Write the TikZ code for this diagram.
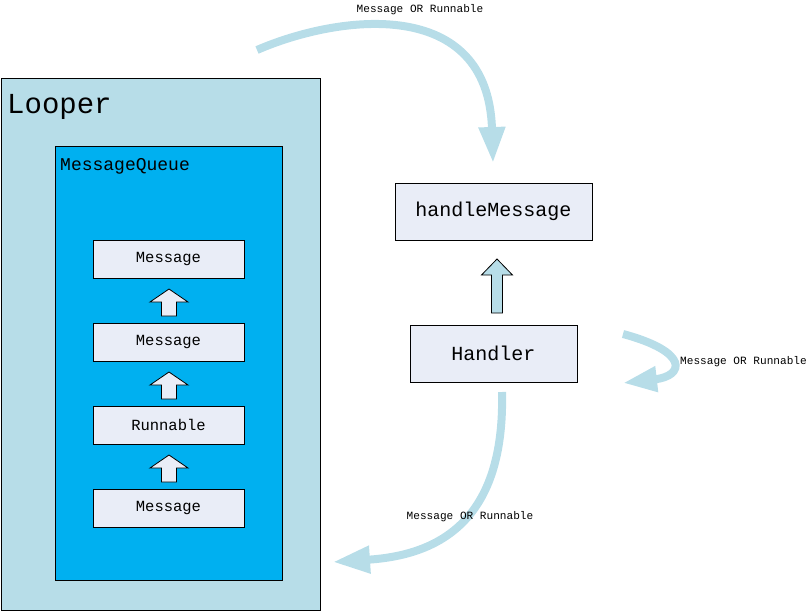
\documentclass[tikz,border=0pt]{standalone}
\usepackage{fontspec}
\setmainfont{Liberation Mono}
\usetikzlibrary{arrows.meta,calc}
\definecolor{looperblue}{RGB}{183,221,232}
\definecolor{queueblue}{RGB}{0,176,240}
\definecolor{boxfill}{RGB}{233,237,247}
\definecolor{flowblue}{RGB}{183,221,232}
\begin{document}
\begin{tikzpicture}[x=1pt,y=-1pt,
  frame/.style={draw=black,line width=0.8pt,inner sep=0pt},
  itembox/.style={frame,fill=boxfill,minimum width=151pt,minimum height=38pt,font=\fontsize{15.5}{18}\selectfont},
  bigbox/.style={frame,fill=boxfill,minimum height=57pt,font=\fontsize{20}{24}\selectfont},
  flowlabel/.style={inner sep=0pt,font=\fontsize{11.1}{13}\selectfont},
  flow/.style={draw=flowblue,line width=8pt},
  blockarrow/.style={draw=black,line width=0.8pt,line join=miter},
  smallup/.pic={\draw[pic actions] (-7.5,14) -- (-7.5,0) -- (-19,0) -- (0,-13) -- (19,0) -- (7.5,0) -- (7.5,14) -- cycle;},
  bigup/.pic={\draw[pic actions] (-5.5,27) -- (-5.5,-11) -- (-15.5,-11) -- (0,-27) -- (15.5,-11) -- (5.5,-11) -- (5.5,27) -- cycle;}
]
\useasboundingbox (0,0) rectangle (808,611);

% Looper and queue
\node[frame,fill=looperblue,minimum width=319pt,minimum height=532pt] (looper) at (160.5,344) {};
\node[anchor=base west,inner sep=0pt,font=\fontsize{29}{32}\selectfont] (looperlabel) at (7,113) {Looper};
\node[frame,fill=queueblue,minimum width=227pt,minimum height=434pt] (queue) at (168.5,363) {};
\node[anchor=base west,inner sep=0pt,font=\fontsize{18}{20}\selectfont] (queuelabel) at (60,170) {MessageQueue};

\node[itembox] (m1) at (168.5,259) {Message};
\node[itembox] (m2) at (168.5,342) {Message};
\node[itembox] (m3) at (168.5,425) {Runnable};
\node[itembox] (m4) at (168.5,508) {Message};

\path ($(m2.north)!0.5!(m1.south)$) ++(0.5,1.5) pic[blockarrow,fill=boxfill] {smallup};
\path ($(m3.north)!0.5!(m2.south)$) ++(0.5,1.5) pic[blockarrow,fill=boxfill] {smallup};
\path ($(m4.north)!0.5!(m3.south)$) ++(0.5,1.5) pic[blockarrow,fill=boxfill] {smallup};

% Handler side
\node[bigbox,minimum width=197pt] (hm) at (493.5,211.5) {handleMessage};
\node[bigbox,minimum width=167pt] (h) at (493.5,353.5) {Handler};
\path ($(hm.south)!0.5!(h.north)$) ++(3.5,3.5) pic[blockarrow,fill=flowblue] {bigup};

% curved flows
\coordinate (topstart) at (257,50);
\coordinate (toptip) at (493,163);
\draw[flow,-{Triangle[length=36pt,width=25pt]}] (topstart) .. controls (340,14) and (488,-4) .. (toptip);
\node[flowlabel] (toplabel) at (420,10) {Message OR Runnable};

\coordinate (rightstart) at (623,334);
\coordinate (righttip) at (623,383);
\draw[flow,-{Triangle[length=34pt,width=24pt]}] (rightstart) .. controls (690,352) and (684,376) .. (righttip);
\node[flowlabel,anchor=west] (rightlabel) at (680,362) {Message OR Runnable};

\coordinate (botstart) at (502,392);
\coordinate (bottip) at (333,562);
\draw[flow,-{Triangle[length=37pt,width=26pt]}] (botstart) .. controls (505,520) and (440,555) .. (bottip);
\node[flowlabel] (botlabel) at (470,517) {Message OR Runnable};
\end{tikzpicture}
\end{document}
